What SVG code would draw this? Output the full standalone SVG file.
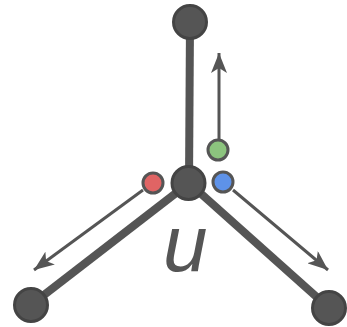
<svg xmlns="http://www.w3.org/2000/svg" width="347" height="327" viewBox="0 0 347 327">
<style>
.edge{stroke:#555;stroke-width:8;stroke-linecap:butt}
.node{fill:#555;stroke:#444;stroke-width:3}
.arrow{stroke:#555;stroke-width:3;fill:none}
.port{stroke:#555;stroke-width:3}
.lbl{font-family:"Liberation Sans",Arial,sans-serif;font-style:italic;font-size:80px;fill:#555}
</style>
<defs>
<marker id="ah" viewBox="0 0 20 16" refX="20" refY="8" markerWidth="20" markerHeight="16" markerUnits="userSpaceOnUse" orient="auto">
<path d="M20,8 L0,0 L5,8 L0,16 Z" fill="#555"/>
</marker>
</defs>
<g id="connectors">
<line class="edge" x1="189" y1="183" x2="190" y2="22"/>
<line class="edge" x1="189" y1="183" x2="31" y2="305"/>
<line class="edge" x1="189" y1="183" x2="329" y2="308"/>
<line class="arrow" x1="219" y1="139" x2="219" y2="53" marker-end="url(#ah)"/>
<line class="arrow" x1="143" y1="190" x2="34" y2="270" marker-end="url(#ah)"/>
<line class="arrow" x1="233" y1="190" x2="328" y2="270" marker-end="url(#ah)"/>
</g>
<g id="n-top"><circle class="node" cx="190" cy="22" r="16.5"/></g>
<g id="n-left"><circle class="node" cx="31" cy="305" r="16.5"/></g>
<g id="n-right"><circle class="node" cx="329" cy="308" r="16.5"/></g>
<g id="n-u"><circle class="node" cx="188.5" cy="183" r="16.5"/>
<text class="lbl" x="163" y="271">u</text></g>
<g id="p-red"><circle class="port" cx="153" cy="183" r="10" fill="#e06464"/></g>
<g id="p-green"><circle class="port" cx="218" cy="150" r="10" fill="#8cc47e"/></g>
<g id="p-blue"><circle class="port" cx="223" cy="182" r="10" fill="#5e92e8"/></g>
</svg>
